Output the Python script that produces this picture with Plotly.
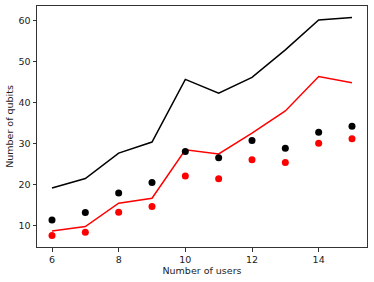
import plotly.graph_objects as go

users = [6, 7, 8, 9, 10, 11, 12, 13, 14, 15]
black_line = [19.1, 21.4, 27.6, 30.3, 45.6, 42.2, 46.1, 52.8, 60.1, 60.7]
red_line = [8.6, 9.7, 15.4, 16.6, 28.4, 27.4, 32.5, 37.9, 46.3, 44.8]
black_dots = [11.3, 13.1, 17.9, 20.45, 28.0, 26.5, 30.7, 28.8, 32.7, 34.15]
red_dots = [7.5, 8.3, 13.2, 14.6, 22.0, 21.35, 26.0, 25.3, 30.0, 31.1]

fig = go.Figure()
fig.add_trace(go.Scatter(x=users, y=black_line, mode="lines", line=dict(color="black", width=1.5)))
fig.add_trace(go.Scatter(x=users, y=red_line, mode="lines", line=dict(color="red", width=1.5)))
fig.add_trace(go.Scatter(x=users, y=black_dots, mode="markers", marker=dict(color="black", size=7)))
fig.add_trace(go.Scatter(x=users, y=red_dots, mode="markers", marker=dict(color="red", size=7)))

font = dict(family="DejaVu Sans", size=9.5, color="#222")
fig.update_layout(
    width=374, height=282,
    margin=dict(l=37, r=7, t=6, b=35, pad=0),
    paper_bgcolor="white", plot_bgcolor="white",
    showlegend=False,
    font=font,
)
fig.update_xaxes(
    range=[5.55, 15.45], tickvals=[6, 8, 10, 12, 14],
    showgrid=False, zeroline=False, automargin=False,
    showline=True, linecolor="#333", linewidth=1, mirror=True,
    ticks="outside", ticklen=3.5, tickwidth=0.8, tickcolor="#333",
    title=dict(text="Number of users", font=font, standoff=3),
)
fig.update_yaxes(
    range=[4.7, 63.5], tickvals=[10, 20, 30, 40, 50, 60],
    showgrid=False, zeroline=False, automargin=False,
    showline=True, linecolor="#333", linewidth=1, mirror=True,
    ticks="outside", ticklen=3.5, tickwidth=0.8, tickcolor="#333",
    title=dict(text="Number of qubits", font=font, standoff=3),
)
fig.write_html(
    "out.html",
    config={"displayModeBar": False},
    post_script="document.body.style.margin='0';document.body.style.padding='0';",
)
